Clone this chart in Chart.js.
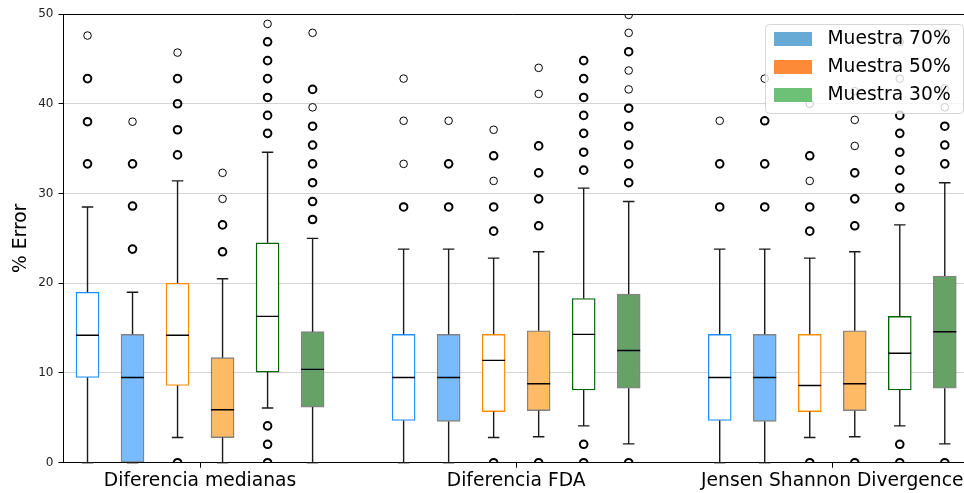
<!DOCTYPE html>
<html>
<head>
<meta charset="utf-8">
<script src="https://cdn.jsdelivr.net/npm/chart.js@4/dist/chart.umd.min.js"></script>
<style>
  html, body { margin: 0; padding: 0; background: #fff; overflow: hidden; }
  #wrap { width: 964px; height: 493px; position: relative; }
</style>
</head>
<body>
<div id="wrap"><canvas id="boxChart"></canvas></div>
<script>
var metrics = ['Diferencia medianas', 'Diferencia FDA', 'Jensen Shannon Divergence'];
var samples = ['Muestra 70%', 'Muestra 50%', 'Muestra 30%'];
var yTicks = [0, 10, 20, 30, 40, 50];

// box stats per metric: [whisker low, q1, median, q3, whisker high]
// "a" = hollow box, "b" = filled box
var stats70a = [[0, 9.5, 14.2, 19.0, 28.5], [0, 4.7, 9.5, 14.3, 23.8], [0, 4.7, 9.5, 14.3, 23.8]];
var stats70b = [[0, 0, 9.5, 14.3, 19.0], [0, 4.6, 9.5, 14.3, 23.8], [0, 4.6, 9.5, 14.3, 23.8]];
var stats50a = [[2.8, 8.6, 14.2, 20.0, 31.4], [2.8, 5.7, 11.4, 14.3, 22.8], [2.8, 5.7, 8.6, 14.3, 22.8]];
var stats50b = [[0, 2.8, 5.9, 11.7, 20.5], [2.9, 5.8, 8.8, 14.7, 23.5], [2.9, 5.8, 8.8, 14.7, 23.5]];
var stats30a = [[6.1, 10.1, 16.3, 24.5, 34.6], [4.1, 8.1, 14.3, 18.3, 30.6], [4.1, 8.1, 12.2, 16.3, 26.5]];
var stats30b = [[0, 6.2, 10.4, 14.6, 25.0], [2.1, 8.3, 12.5, 18.8, 29.1], [2.1, 8.3, 14.6, 20.8, 31.2]];

// outliers per metric, repeated values are points that sit on top of each other
var out70a = [
    [47.6, 42.8, 42.8, 38.0, 38.0, 33.3, 33.3],
    [42.8, 38.1, 33.3, 28.5, 28.5],
    [38.1, 33.3, 33.3, 28.5, 28.5]
];
var out70b = [
    [38.0, 33.3, 33.3, 28.6, 28.6, 23.8, 23.8],
    [38.1, 33.3, 33.3, 28.5, 28.5],
    [42.8, 38.1, 38.1, 33.3, 33.3, 28.5, 28.5]
];
var out50a = [
    [45.7, 42.8, 42.8, 40.0, 40.0, 37.1, 37.1, 34.3, 34.3, 0, 0],
    [37.1, 34.2, 34.2, 31.4, 28.5, 28.5, 25.8, 25.8, 0, 0],
    [40.0, 34.2, 34.2, 31.4, 28.5, 28.5, 25.8, 25.8, 0, 0]
];
var out50b = [
    [32.3, 29.4, 26.5, 26.5, 23.5, 23.5],
    [44.0, 41.1, 35.3, 35.3, 32.3, 32.3, 29.4, 29.4, 26.4, 26.4, 0, 0],
    [41.4, 38.2, 35.3, 32.3, 32.3, 29.4, 29.4, 26.4, 26.4, 0, 0]
];
var out30a = [
    [48.9, 46.9, 46.9, 44.8, 44.8, 42.8, 42.8, 40.7, 40.7, 38.7, 38.7, 36.7, 36.7, 4.1, 4.1, 2.05, 2.05, 0, 0],
    [44.8, 44.8, 42.8, 42.8, 40.7, 40.7, 38.7, 38.7, 36.7, 36.7, 34.6, 34.6, 32.6, 32.6, 2.05, 2.05, 0, 0],
    [46.9, 42.8, 38.7, 38.7, 36.7, 36.7, 34.6, 34.6, 32.6, 32.6, 30.6, 30.6, 28.5, 28.5, 2.05, 2.05, 0, 0]
];
var out30b = [
    [47.9, 41.6, 41.6, 39.6, 37.5, 37.5, 35.4, 35.4, 33.3, 33.3, 31.2, 31.2, 29.1, 29.1, 27.1, 27.1],
    [49.9, 47.9, 45.8, 45.8, 43.7, 41.6, 39.5, 39.5, 37.5, 37.5, 35.4, 35.4, 33.3, 33.3, 31.2, 31.2, 0, 0],
    [47.9, 41.7, 39.6, 37.5, 37.5, 35.4, 35.4, 33.3, 33.3, 0, 0]
];

var allStats = [stats70a, stats70b, stats50a, stats50b, stats30a, stats30b];
var allOut = [out70a, out70b, out50a, out50b, out30a, out30b];

var edgeColors = ['#1e90ff', '#1e90ff', '#ff8c00', '#ff8c00', '#006400', '#006400'];
var fillColors = ['#ffffff', '#78bcff', '#ffffff', '#ffba66', '#ffffff', '#66a266'];
var legendColors = ['#68aad6', '#fd8a37', '#6cc176'];

var boxStep = 45 / 316; // distance between boxes inside a group, in axis units
var boxWidth = 23;

function xPos(metricIdx, boxIdx) {
    return metricIdx + (boxIdx - 2.5) * boxStep;
}

var datasets = [];
allStats.forEach(function(st, k) {
    var hollow = (k % 2 === 0);
    datasets.push({
        type: 'bar',
        grouped: false,
        barThickness: boxWidth,
        borderSkipped: false,
        backgroundColor: fillColors[k],
        borderColor: hollow ? edgeColors[k] : 'rgba(90,90,90,0.75)',
        borderWidth: 1.4,
        data: st.map(function(s, i) {
            return {x: xPos(i, k), y: [s[1], s[3]]};
        })
    });
});

// collapse duplicated outliers into one point with a count
var outPoints = [];
allOut.forEach(function(per, k) {
    per.forEach(function(vals, i) {
        var seen = {};
        vals.forEach(function(v) {
            if (seen[v]) { seen[v].n++; return; }
            seen[v] = {x: xPos(i, k), y: v, n: 1};
            outPoints.push(seen[v]);
        });
    });
});

datasets.push({
    type: 'scatter',
    data: outPoints,
    pointRadius: 3.8,
    pointBackgroundColor: 'rgba(0,0,0,0)',
    pointBorderColor: '#000',
    pointBorderWidth: function(c) { return c.raw && c.raw.n > 1 ? 2 : 1; }
});

// whiskers, caps and medians
var boxLines = {
    id: 'boxLines',
    afterDatasetsDraw: function(chart) {
        var ctx = chart.ctx, x = chart.scales.x, y = chart.scales.y;
        var a = chart.chartArea;
        ctx.save();
        ctx.beginPath();
        ctx.rect(a.left, a.top - 1, a.right - a.left, a.bottom - a.top + 2);
        ctx.clip();
        allStats.forEach(function(st, k) {
            st.forEach(function(s, i) {
                var cx = x.getPixelForValue(xPos(i, k));
                ctx.strokeStyle = '#1a1a1a';
                ctx.lineWidth = 1.4;
                ctx.beginPath();
                ctx.moveTo(cx, y.getPixelForValue(s[3]));
                ctx.lineTo(cx, y.getPixelForValue(s[4]));
                ctx.moveTo(cx, y.getPixelForValue(s[1]));
                ctx.lineTo(cx, y.getPixelForValue(s[0]));
                ctx.moveTo(cx - boxWidth / 4, y.getPixelForValue(s[4]));
                ctx.lineTo(cx + boxWidth / 4, y.getPixelForValue(s[4]));
                ctx.moveTo(cx - boxWidth / 4, y.getPixelForValue(s[0]));
                ctx.lineTo(cx + boxWidth / 4, y.getPixelForValue(s[0]));
                ctx.stroke();
                ctx.strokeStyle = '#000';
                ctx.beginPath();
                ctx.moveTo(cx - boxWidth / 2, y.getPixelForValue(s[2]));
                ctx.lineTo(cx + boxWidth / 2, y.getPixelForValue(s[2]));
                ctx.stroke();
            });
        });
        ctx.restore();
    },
    afterDraw: function(chart) {
        var ctx = chart.ctx, a = chart.chartArea;
        ctx.save();
        // top spine
        ctx.strokeStyle = '#000';
        ctx.lineWidth = 1;
        ctx.beginPath();
        ctx.moveTo(a.left, a.top + 0.5);
        ctx.lineTo(a.right, a.top + 0.5);
        ctx.stroke();

        // legend box
        var w = 198, h = 89;
        var lx = a.right - w - 1, ly = a.top + 10;
        ctx.fillStyle = 'rgba(255,255,255,0.8)';
        ctx.strokeStyle = 'rgba(204,204,204,0.8)';
        ctx.beginPath();
        ctx.roundRect(lx + 0.5, ly + 0.5, w, h, 4);
        ctx.fill();
        ctx.stroke();
        ctx.font = '18.7px "DejaVu Sans"';
        ctx.textBaseline = 'middle';
        samples.forEach(function(s, i) {
            var py = ly + 8 + i * 28;
            ctx.fillStyle = legendColors[i];
            ctx.fillRect(lx + 9, py, 38, 14);
            ctx.fillStyle = '#000';
            ctx.fillText(s, lx + 62.5, py + 7.5);
        });
        ctx.restore();
    }
};

Chart.defaults.font.family = '"DejaVu Sans", sans-serif';

new Chart(document.getElementById('boxChart'), {
    type: 'bar',
    data: {datasets: datasets},
    options: {
        responsive: true,
        maintainAspectRatio: false,
        animation: false,
        layout: {autoPadding: false, padding: {top: 14, right: 0, left: 0, bottom: 0}},
        plugins: {legend: {display: false}, tooltip: {enabled: false}},
        scales: {
            x: {
                type: 'linear',
                offset: false,
                min: -0.432,
                max: 2.4168,
                afterBuildTicks: function(s) {
                    s.ticks = metrics.map(function(m, i) { return {value: i}; });
                },
                afterFit: function(s) {
                    s.height = 30.3;
                    s.paddingLeft = 0;
                    s.paddingRight = 0;
                },
                ticks: {
                    autoSkip: false,
                    maxRotation: 0,
                    padding: 2,
                    color: '#000',
                    font: {size: 18.7},
                    callback: function(v) { return metrics[v]; }
                },
                grid: {offset: false, drawOnChartArea: false, tickLength: 5, tickColor: '#000'},
                border: {color: '#000', width: 1}
            },
            y: {
                min: 0,
                max: 50,
                z: 1,
                afterBuildTicks: function(s) {
                    s.ticks = yTicks.map(function(v) { return {value: v}; });
                },
                afterFit: function(s) {
                    s.width = 63.5;
                    s.paddingTop = 0;
                    s.paddingBottom = 0;
                },
                ticks: {color: '#222', padding: 5, font: {size: 12}},
                grid: {
                    color: function(c) {
                        return (c.tick && (c.tick.value === 0 || c.tick.value === 50)) ? 'rgba(0,0,0,0)' : 'rgba(176,176,176,0.55)';
                    },
                    tickColor: '#000',
                    tickLength: 5
                },
                border: {color: '#000', width: 1},
                title: {display: true, text: '% Error', color: '#000', font: {size: 18.7}, padding: {top: 10, bottom: 0}}
            }
        }
    },
    plugins: [boxLines]
});
</script>
</body>
</html>
